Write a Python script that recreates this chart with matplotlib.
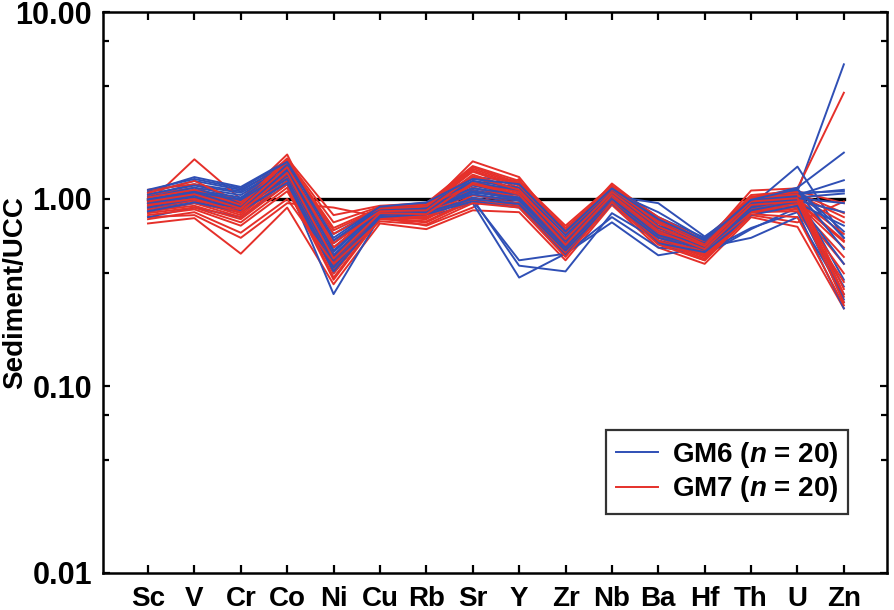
import matplotlib
matplotlib.use("Agg")
import matplotlib.pyplot as plt
from matplotlib.ticker import FixedLocator, FuncFormatter, NullFormatter
import numpy as np

plt.rcParams['font.family'] = ['Liberation Sans', 'DejaVu Sans']
plt.rcParams['font.weight'] = 'bold'
plt.rcParams['mathtext.fontset'] = 'custom'
plt.rcParams['mathtext.it'] = 'Liberation Sans:italic:bold'
plt.rcParams['mathtext.rm'] = 'Liberation Sans:bold'

elements = ["Sc", "V", "Cr", "Co", "Ni", "Cu", "Rb", "Sr", "Y", "Zr", "Nb", "Ba", "Hf", "Th", "U", "Zn"]

gm6 = [
    [1.05, 1.20, 1.10, 1.55, 0.55, 0.88, 0.92, 1.20, 1.10, 0.60, 1.10, 0.70, 0.58, 0.95, 1.10, 5.25],
    [0.95, 1.05, 0.95, 1.40, 0.50, 0.85, 0.88, 1.10, 1.05, 0.55, 1.05, 0.65, 0.55, 0.92, 1.49, 0.62],
    [1.10, 1.31, 1.16, 1.60, 0.65, 0.90, 0.95, 1.31, 1.25, 0.68, 1.15, 0.80, 0.62, 1.00, 1.15, 1.77],
    [0.80, 0.90, 0.80, 1.20, 0.31, 0.80, 0.80, 0.95, 0.38, 0.51, 0.80, 0.55, 0.52, 0.70, 0.85, 0.26],
    [0.85, 0.95, 0.85, 1.25, 0.40, 0.82, 0.85, 0.98, 0.47, 0.51, 0.75, 0.50, 0.55, 0.62, 0.80, 0.31],
    [0.90, 1.00, 0.88, 1.30, 0.42, 0.84, 0.86, 1.00, 0.44, 0.41, 0.84, 0.60, 0.50, 0.69, 0.90, 0.34],
    [1.00, 1.10, 1.00, 1.45, 0.48, 0.86, 0.90, 1.15, 1.00, 0.58, 1.08, 0.68, 0.57, 0.90, 1.05, 1.26],
    [1.02, 1.15, 1.05, 1.50, 0.52, 0.87, 0.91, 1.18, 1.05, 0.62, 1.12, 0.72, 0.60, 0.96, 1.08, 1.10],
    [0.98, 1.08, 0.98, 1.42, 0.46, 0.85, 0.89, 1.12, 0.98, 0.56, 1.06, 0.66, 0.56, 0.93, 1.02, 1.07],
    [0.92, 1.02, 0.92, 1.35, 0.44, 0.83, 0.87, 1.05, 0.95, 0.54, 1.02, 0.63, 0.54, 0.88, 0.98, 0.85],
    [0.88, 0.98, 0.90, 1.32, 0.45, 0.81, 0.84, 1.02, 0.92, 0.52, 0.98, 0.60, 0.53, 0.85, 0.95, 0.72],
    [1.08, 1.25, 1.12, 1.52, 0.58, 0.89, 0.93, 1.25, 1.15, 0.64, 1.12, 0.75, 0.59, 0.98, 1.12, 0.67],
    [1.06, 1.18, 1.08, 1.48, 0.60, 0.90, 0.94, 1.22, 1.12, 0.66, 1.10, 0.85, 0.61, 0.97, 1.10, 0.54],
    [0.96, 1.06, 0.96, 1.38, 0.50, 0.86, 0.90, 1.08, 1.02, 0.57, 1.04, 0.95, 0.63, 0.94, 1.04, 0.37],
    [0.94, 1.04, 0.94, 1.36, 0.47, 0.84, 0.88, 1.06, 0.98, 0.55, 1.00, 0.64, 0.55, 0.90, 1.00, 0.28],
    [0.90, 1.00, 0.90, 1.28, 0.43, 0.82, 0.85, 1.00, 0.94, 0.53, 0.96, 0.62, 0.54, 0.87, 0.97, 0.45],
    [1.03, 1.12, 1.02, 1.44, 0.53, 0.87, 0.91, 1.14, 1.06, 0.60, 1.08, 0.70, 0.58, 0.95, 1.06, 1.12],
    [0.99, 1.09, 0.99, 1.40, 0.49, 0.85, 0.89, 1.10, 1.00, 0.58, 1.05, 0.67, 0.56, 0.92, 1.01, 0.95],
    [0.86, 0.96, 0.86, 1.22, 0.41, 0.80, 0.83, 0.97, 0.90, 0.50, 0.95, 0.58, 0.52, 0.82, 0.92, 0.29],
    [1.12, 1.28, 1.14, 1.58, 0.62, 0.91, 0.96, 1.28, 1.20, 0.67, 1.14, 0.78, 0.60, 0.99, 1.13, 0.62],
]

gm7 = [
    [0.95, 1.63, 1.00, 1.73, 0.55, 0.88, 0.90, 1.59, 1.31, 0.65, 1.21, 0.78, 0.58, 1.11, 1.14, 3.70],
    [0.74, 0.79, 0.51, 0.90, 0.35, 0.74, 0.69, 0.87, 0.85, 0.47, 0.93, 0.55, 0.45, 0.80, 0.71, 0.26],
    [0.80, 0.82, 0.62, 0.95, 0.90, 0.80, 0.72, 0.90, 1.28, 0.50, 0.95, 0.58, 0.47, 0.82, 0.75, 0.97],
    [1.12, 1.20, 0.98, 1.65, 0.82, 0.92, 0.95, 1.50, 1.25, 0.72, 1.18, 0.80, 0.60, 1.05, 1.10, 0.95],
    [1.05, 1.15, 0.95, 1.60, 0.70, 0.90, 0.92, 1.45, 1.20, 0.68, 1.15, 0.76, 0.58, 1.02, 1.08, 0.84],
    [1.00, 1.10, 0.92, 1.55, 0.65, 0.88, 0.90, 1.40, 1.15, 0.65, 1.12, 0.74, 0.57, 1.00, 1.05, 0.80],
    [0.98, 1.08, 0.90, 1.50, 0.60, 0.87, 0.88, 1.35, 1.12, 0.62, 1.10, 0.72, 0.56, 0.98, 1.02, 0.75],
    [0.96, 1.05, 0.88, 1.45, 0.55, 0.85, 0.86, 1.30, 1.10, 0.60, 1.08, 0.70, 0.55, 0.96, 1.00, 0.65],
    [0.94, 1.02, 0.86, 1.40, 0.50, 0.84, 0.84, 1.25, 1.08, 0.58, 1.06, 0.68, 0.54, 0.94, 0.98, 0.60],
    [0.92, 1.00, 0.84, 1.35, 0.46, 0.83, 0.82, 1.20, 1.05, 0.56, 1.05, 0.66, 0.53, 0.92, 0.96, 0.59],
    [0.90, 0.98, 0.82, 1.30, 0.43, 0.82, 0.80, 1.15, 1.02, 0.55, 1.04, 0.65, 0.52, 0.90, 0.94, 0.55],
    [0.88, 0.95, 0.80, 1.25, 0.40, 0.81, 0.79, 1.10, 1.00, 0.53, 1.02, 0.63, 0.51, 0.88, 0.92, 0.49],
    [0.86, 0.92, 0.78, 1.20, 0.38, 0.80, 0.78, 1.05, 0.98, 0.52, 1.00, 0.62, 0.50, 0.87, 0.90, 0.45],
    [0.84, 0.90, 0.75, 1.15, 0.37, 0.79, 0.76, 1.00, 0.95, 0.51, 0.99, 0.60, 0.49, 0.86, 0.88, 0.40],
    [0.82, 0.88, 0.72, 1.10, 0.42, 0.78, 0.75, 0.98, 0.92, 0.50, 0.97, 0.59, 0.48, 0.85, 0.86, 0.36],
    [1.08, 1.25, 0.96, 1.62, 0.75, 0.91, 0.93, 1.48, 1.22, 0.70, 1.16, 0.77, 0.59, 1.03, 1.09, 0.33],
    [1.02, 1.12, 0.93, 1.58, 0.68, 0.89, 0.91, 1.42, 1.18, 0.66, 1.13, 0.75, 0.57, 1.01, 1.06, 0.31],
    [0.97, 1.06, 0.89, 1.48, 0.58, 0.86, 0.87, 1.32, 1.12, 0.61, 1.09, 0.71, 0.56, 0.97, 1.01, 0.30],
    [0.93, 1.00, 0.85, 1.38, 0.48, 0.84, 0.83, 1.22, 1.06, 0.57, 1.05, 0.67, 0.54, 0.93, 0.97, 0.28],
    [0.78, 0.85, 0.66, 1.00, 0.45, 0.76, 0.73, 0.95, 0.90, 0.49, 0.96, 0.57, 0.47, 0.83, 0.80, 0.27],
]

labels = ["GM6 ($n$ = 20)", "GM7 ($n$ = 20)"]
colors = ["#2f4fb5", "#e5302a"]

fig = plt.figure(figsize=(8.94, 6.10), dpi=100)
ax = fig.add_axes([103/894, 1-573/610, (887-103)/894, (573-12)/610])

x = np.arange(1, len(elements) + 1)
ax.plot([x[0], x[-1]], [1, 1], color="black", lw=2.4, zorder=1)

# interleave drawing order so that both groups remain visible
for i in range(len(gm6)):
    ax.plot(x, gm6[i], color=colors[0], lw=1.4, zorder=2 + 2 * i,
            label=labels[0] if i == 0 else None)
    ax.plot(x, gm7[i], color=colors[1], lw=1.4, zorder=3 + 2 * i,
            label=labels[1] if i == 0 else None)

ax.set_yscale("log")
ax.set_ylim(0.01, 10)
ax.set_xlim(0.03, 16.93)
ax.set_xticks(x)
ax.set_xticklabels(elements, fontsize=20, fontweight="bold")
ax.yaxis.set_major_locator(FixedLocator([0.01, 0.1, 1, 10]))
ax.yaxis.set_major_formatter(FuncFormatter(lambda v, p: f"{v:.2f}"))
minors = [m * 10.0**k for k in (-2, -1, 0) for m in (4, 7)]
ax.yaxis.set_minor_locator(FixedLocator(minors))
ax.yaxis.set_minor_formatter(NullFormatter())
ax.tick_params(axis="both", which="both", direction="in", top=True, right=True,
               width=1.6, color="black")
ax.tick_params(axis="x", which="major", length=6, pad=9)
ax.tick_params(axis="y", which="major", length=5, pad=8, labelsize=22)
ax.tick_params(axis="y", which="minor", length=4)
for t in ax.get_yticklabels():
    t.set_fontweight("bold")
for s in ax.spines.values():
    s.set_linewidth(1.8)

ax.set_ylabel("Sediment/UCC", fontsize=20, fontweight="bold")
ax.yaxis.set_label_coords(-0.095, 0.5)

leg = ax.legend(loc="lower right", bbox_to_anchor=(0.950, 0.105), borderaxespad=0,
                fontsize=20, frameon=True, fancybox=False, handlelength=1.5,
                handletextpad=0.5, borderpad=0.35, labelspacing=0.15)
leg.get_frame().set_edgecolor("black")
leg.get_frame().set_linewidth(1.6)
for t in leg.get_texts():
    t.set_fontweight("bold")

fig.savefig("out.png", dpi=100)
